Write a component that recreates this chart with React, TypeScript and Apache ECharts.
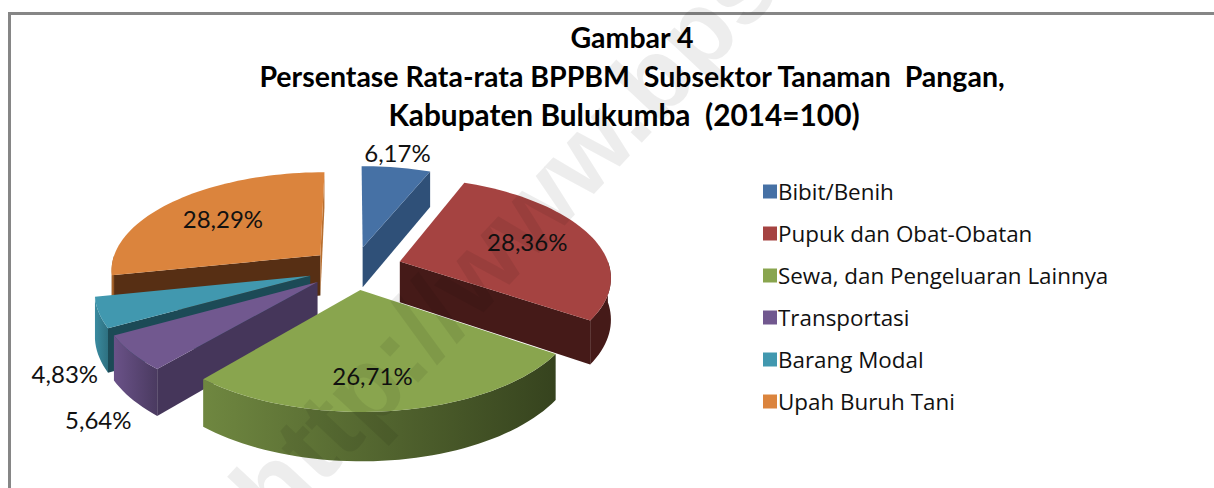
import React, { useEffect, useRef } from "react";
import * as echarts from "echarts";

const titleLines = [
  "Gambar 4",
  "Persentase Rata-rata BPPBM  Subsektor Tanaman  Pangan,",
  "Kabupaten Bulukumba  (2014=100)",
];
const categories = [
  "Bibit/Benih",
  "Pupuk dan Obat-Obatan",
  "Sewa, dan Pengeluaran Lainnya",
  "Transportasi",
  "Barang Modal",
  "Upah Buruh Tani",
];
const values = [6.17, 28.36, 26.71, 5.64, 4.83, 28.29];
const topColors = ["#4671A5", "#A54341", "#89A54E", "#71588F", "#4198AF", "#DB843D"];
const wallColors = ["#2F5078", "#451A18", "#3A4820", "#45365A", "#1C4A56", "#572F14"];
const rimLeft = ["#2F5078", "#5A2422", "#6F8740", "#6A5288", "#3A8BA0", "#B86F30"];
const rimRight = ["#2F5078", "#451A18", "#36431E", "#4A3A60", "#2E7080", "#8A5020"];
const explode = [0.22, 0.23, 0.22, 0.22, 0.22, 0.21];
const labelRadius = [1.25, 0.62, 0.62, 1.2, 1.2, 0.62];
const labelNudge = [[-6, 2], [8, -3], [-8, 15], [8, 50], [11, 53], [-5, -2]];

const CX = 354, CY = 268, A = 210, B = 98, PERSP = 0.14, DEPTH = 41;
const project = (u: number, v: number, down = 0) => {
  const w = 1 / (1 - PERSP * v);
  return [CX + A * u * w, CY + B * v * w + down * DEPTH * w];
};
const total = values.reduce((a, b) => a + b, 0);
const rad = (d: number) => (d * Math.PI) / 180;
const dirU = (d: number) => Math.sin(rad(d));
const dirV = (d: number) => -Math.cos(rad(d));
let cum = 0;
const slices = values.map((val, i) => {
  const start = (cum / total) * 360;
  cum += val;
  const end = (cum / total) * 360;
  const mid = (start + end) / 2;
  return { i, val, start, end, mid, ou: explode[i] * dirU(mid), ov: explode[i] * dirV(mid) };
});

function renderSlice(i: number) {
  const s = slices[i];
  const arc = (a: number, b: number, down: number) => {
    const pts: number[][] = [];
    const n = Math.max(2, Math.ceil(Math.abs(b - a) / 2));
    for (let k = 0; k <= n; k++) {
      const t = a + ((b - a) * k) / n;
      pts.push(project(s.ou + dirU(t), s.ov + dirV(t), down));
    }
    return pts;
  };
  const apex = project(s.ou, s.ov);
  const apexLow = project(s.ou, s.ov, 1);
  const kids: any[] = [];
  const wall = (d: number) => {
    const p = project(s.ou + dirU(d), s.ov + dirV(d));
    const q = project(s.ou + dirU(d), s.ov + dirV(d), 1);
    return [apex, p, q, apexLow];
  };
  if (-Math.sin(rad(s.start)) > 1e-6)
    kids.push({ type: "polygon", shape: { points: wall(s.start) }, style: { fill: wallColors[i] } });
  if (Math.sin(rad(s.end)) > -1e-6) {
    const back = Math.cos(rad(s.end)) > 0.99;
    kids.push({ type: "polygon", shape: { points: wall(s.end) }, style: { fill: back ? rimLeft[i] : wallColors[i] } });
  }
  const a = Math.max(s.start, 90), b = Math.min(s.end, 270);
  if (b > a) {
    kids.push({
      type: "polygon",
      shape: { points: [...arc(a, b, 0), ...arc(b, a, 1)] },
      style: {
        fill: new echarts.graphic.LinearGradient(0, 0, 1, 0, [
          { offset: 0, color: a < 180 && b <= 180 ? rimRight[i] : rimLeft[i] },
          { offset: 1, color: rimRight[i] },
        ]),
      },
    });
  }
  kids.push({
    type: "polygon",
    shape: { points: [apex, ...arc(s.start, s.end, 0)] },
    style: { fill: topColors[i] },
  });
  const lp = project(s.ou + labelRadius[i] * dirU(s.mid), s.ov + labelRadius[i] * dirV(s.mid));
  kids.push({
    type: "text",
    x: lp[0] + labelNudge[i][0],
    y: lp[1] + labelNudge[i][1],
    z2: 50,
    style: {
      text: s.val.toFixed(2).replace(".", ",") + "%",
      fill: "#111",
      font: "24px Lato",
      align: "center",
      verticalAlign: "middle",
    },
  });
  return { type: "group", children: kids };
}

export default function App() {
  const ref = useRef<HTMLDivElement>(null);
  useEffect(() => {
    const chart = echarts.init(ref.current!, undefined, { renderer: "svg" });
    const order = slices.slice().sort((a, b) => dirV(a.mid) - dirV(b.mid));
    const titleFont = { fontFamily: "Lato", fontWeight: "bold", color: "#000" };
    const option: any = {
      animation: false,
      backgroundColor: "#fff",
      title: [
        {
          text: titleLines.slice(0, 2).join("\n"),
          left: 627,
          top: 13,
          textAlign: "center",
          textStyle: { ...titleFont, fontSize: 28.5, lineHeight: 38.5 },
        },
        {
          text: titleLines[2],
          left: 619,
          top: 90,
          textAlign: "center",
          textStyle: { ...titleFont, fontSize: 29.8, lineHeight: 38.5 },
        },
      ],
      legend: {
        orient: "vertical",
        left: 758,
        top: 173,
        itemWidth: 14,
        itemHeight: 14,
        itemGap: 15,
        icon: "rect",
        data: categories,
        textStyle: { fontFamily: "Open Sans", fontSize: 22.4, lineHeight: 27, color: "#111", padding: [0, 0, 0, -4] },
      },
      graphic: [
        {
          type: "polyline",
          z: 1,
          shape: { points: [[9.5, 488], [9.5, 13.5], [1214, 13.5]] },
          style: { stroke: "#868686", lineWidth: 3, fill: "none" },
        },
        {
          type: "text",
          z: 100,
          x: 251,
          y: 509,
          rotation: (47 * Math.PI) / 180,
          silent: true,
          style: {
            text: "http://www.bps",
            font: 'bold 104px "Liberation Sans"',
            fill: "rgba(0,0,0,0.07)",
            align: "left",
            verticalAlign: "middle",
          },
        },
      ],
      series: order.map((s, k) => ({
        type: "custom",
        name: categories[s.i],
        coordinateSystem: "none",
        z: 2 + k,
        itemStyle: { color: topColors[s.i] },
        data: [s.val],
        renderItem: () => renderSlice(s.i),
      })),
    };
    chart.setOption(option);
    return () => chart.dispose();
  }, []);
  return <div ref={ref} style={{ position: "fixed", left: 0, top: 0, width: 1214, height: 488 }} />;
}
